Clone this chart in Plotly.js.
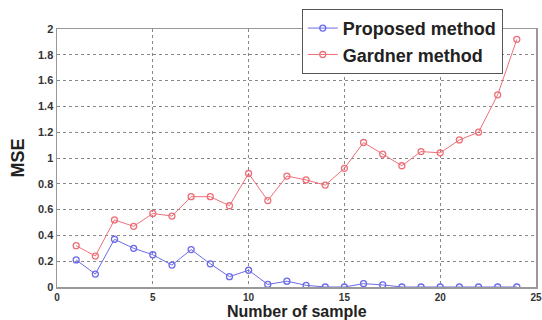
<!DOCTYPE html>
<html><head><meta charset="utf-8">
<script src="https://cdn.plot.ly/plotly-3.0.1.min.js"></script>
<style>html,body{margin:0;padding:0;background:#fff}#c{width:542px;height:320px}</style>
</head><body><div id="c"></div>
<script>
const samples = [1,2,3,4,5,6,7,8,9,10,11,12,13,14,15,16,17,18,19,20,21,22,23,24];
const proposed = [0.21,0.10,0.37,0.30,0.25,0.17,0.29,0.18,0.08,0.13,0.02,0.045,0.013,0.0,0.0,0.026,0.016,0.0,0.0,0.0,0.0,0.0,0.0,0.0];
const gardner = [0.32,0.24,0.52,0.47,0.57,0.55,0.70,0.70,0.63,0.88,0.67,0.86,0.83,0.79,0.92,1.12,1.03,0.94,1.05,1.04,1.14,1.20,1.49,1.92];
const xTicks = [0,5,10,15,20,25];
const yTicks = [0,0.2,0.4,0.6,0.8,1,1.2,1.4,1.6,1.8,2];
const yTickText = ['0','0.2','0.4','0.6','0.8','1','1.2','1.4','1.6','1.8','2'];
const xTitle = 'Number of sample';
const yTitle = 'MSE';

const traces = [
 {x:samples,y:proposed,name:'Proposed method',mode:'lines+markers',
  line:{color:'#6b6bea',width:1},marker:{symbol:'circle-open',size:6,color:'#6b6bea',line:{width:1.3}}},
 {x:samples,y:gardner,name:'Gardner method',mode:'lines+markers',
  line:{color:'#ee6f78',width:1},marker:{symbol:'circle-open',size:6,color:'#ee6f78',line:{width:1.3}}}
];
const axisCommon = {showline:true,mirror:true,linecolor:'#999',linewidth:1.5,
  gridcolor:'#888',griddash:'dot',gridwidth:1,zeroline:false,ticks:'',ticklabeloverflow:'allow',
  tickfont:{family:'Liberation Sans, Arial',size:11,color:'#333',weight:'bold'}};
const layout = {
 width:542,height:320,margin:{l:57,r:6,t:29,b:33},
 paper_bgcolor:'#fff',plot_bgcolor:'#fff',showlegend:true,
 xaxis:Object.assign({},axisCommon,{range:[0,25],tickvals:xTicks,ticktext:xTicks.map(String),
   tickfont:{family:'Liberation Sans, Arial',size:10,color:'#333',weight:'bold'}}),
 yaxis:Object.assign({},axisCommon,{range:[0,2],tickvals:yTicks,ticktext:yTickText,
   title:{text:yTitle,font:{family:'Liberation Sans, Arial',size:18,color:'#222',weight:'bold'},standoff:8}}),
 annotations:[{text:xTitle,xref:'paper',yref:'paper',x:0.5,y:0,xanchor:'center',yanchor:'top',
   yshift:-15,borderpad:0,showarrow:false,font:{family:'Liberation Sans, Arial',size:16,color:'#222',weight:'bold'}}],
 legend:{x:0.511,y:1.078,xanchor:'left',yanchor:'top',bgcolor:'#fff',bordercolor:'#555',borderwidth:1,
   font:{family:'Liberation Sans, Arial',size:18,color:'#222',weight:'bold'},itemwidth:30,tracegroupgap:0}
};
Plotly.newPlot('c',traces,layout,{staticPlot:true});
</script></body></html>
